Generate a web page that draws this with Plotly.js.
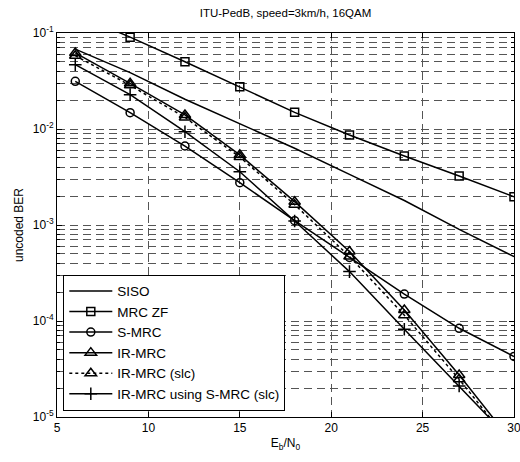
<!DOCTYPE html>
<html><head><meta charset="utf-8">
<script src="https://cdn.plot.ly/plotly-3.0.1.min.js"></script>
<style>html,body{margin:0;padding:0;background:#fff}#chart{width:520px;height:462px}</style>
</head><body><div id="chart"></div>
<script>
var ebn0 = [6, 9, 12, 15, 18, 21, 24, 27, 30];
var siso = [0.068, 0.0387, 0.0204, 0.0113, 0.0063, 0.00337, 0.0018, 0.0009, 0.000468];
var mrcZF = [0.158, 0.0905, 0.0502, 0.0276, 0.0149, 0.00866, 0.00524, 0.00324, 0.00197];
var sMRC = [0.0314, 0.0148, 0.00665, 0.00276, 0.00111, 0.00046, 0.000191, 0.000084, 0.0000427];
var irMRC = [0.062, 0.0299, 0.0140, 0.00538, 0.00175, 0.00053, 0.00013, 0.0000274, 0.0000052];
var irMRCslc = [0.058, 0.0285, 0.0132, 0.0051, 0.00163, 0.00047, 0.000115, 0.0000247, 0.0000048];
var irMRCsMRCslc = [0.0468, 0.0228, 0.00937, 0.00359, 0.0011, 0.000327, 0.000082, 0.000021, 0.0000053];
var xTicks = [5, 10, 15, 20, 25, 30];
var yMajor = [1e-5, 1e-4, 1e-3, 1e-2, 1e-1];
var yMajorText = ['10<sup>-5</sup>', '10<sup>-4</sup>', '10<sup>-3</sup>', '10<sup>-2</sup>', '10<sup>-1</sup>'];
var names = ['SISO', 'MRC ZF', 'S-MRC', 'IR-MRC', 'IR-MRC (slc)', 'IR-MRC using S-MRC (slc)'];

var yMinor = [];
for (var k = 0; k < yMajor.length - 1; k++) {
  for (var d = 2; d <= 9; d++) yMinor.push(yMajor[k] * d);
}

function tr(y, name, symbol, dash, size) {
  var t = {x: ebn0, y: y, name: name, type: 'scatter', cliponaxis: true,
    line: {color: '#000', width: 1.5, dash: dash},
    mode: symbol ? 'lines+markers' : 'lines'};
  if (symbol) t.marker = {symbol: symbol, size: size, color: '#000', line: {color: '#000', width: 1.5}};
  return t;
}
var data = [
  tr(siso, names[0], null, 'solid'),
  tr(mrcZF, names[1], 'square-open', 'solid', 8),
  tr(sMRC, names[2], 'circle-open', 'solid', 8),
  tr(irMRC, names[3], 'triangle-up-open', 'solid', 10),
  tr(irMRCslc, names[4], 'triangle-up-open', 'dot', 10),
  tr(irMRCsMRCslc, names[5], 'cross-thin-open', 'solid', 9)
];
var ff = 'Liberation Sans, Arial, sans-serif';
var font = {family: ff, size: 12, color: '#000'};
var gridStyle = {showgrid: true, gridcolor: '#555', griddash: '8px,5px', gridwidth: 1};
var layout = {
  width: 520, height: 462,
  margin: {l: 57, r: 6, t: 33, b: 45},
  paper_bgcolor: '#fff', plot_bgcolor: '#fff',
  font: font,
  showlegend: true,
  title: {text: 'ITU-PedB, speed=3km/h, 16QAM', font: {family: ff, size: 11.5, color: '#000'}, x: 0.5, xref: 'paper', y: 0.972, yanchor: 'middle'},
  xaxis: Object.assign({range: [5, 30], tickmode: 'array', tickvals: xTicks, ticktext: xTicks.map(String),
    ticks: 'inside', ticklen: 5, tickcolor: '#000', showline: true, mirror: 'ticks', linecolor: '#000', linewidth: 1,
    zeroline: false, ticklabeloverflow: 'allow',
    tickfont: {family: ff, size: 12, color: '#000'},
    title: {text: 'E<sub>b</sub>/N<sub>0</sub>', font: {family: ff, size: 12, color: '#000'}, standoff: 4}}, gridStyle),
  yaxis: Object.assign({type: 'log', range: [-5, -1], tickmode: 'array', tickvals: yMajor, ticktext: yMajorText,
    ticks: 'inside', ticklen: 5, tickcolor: '#000', showline: true, mirror: 'ticks', linecolor: '#000', linewidth: 1,
    zeroline: false, ticklabeloverflow: 'allow',
    tickfont: {family: ff, size: 12, color: '#000'},
    minor: {tickmode: 'array', tickvals: yMinor, ticks: 'inside', ticklen: 3, tickcolor: '#000',
      showgrid: true, gridcolor: '#555', griddash: '8px,5px', gridwidth: 1},
    title: {text: 'uncoded BER', font: {family: ff, size: 12, color: '#000'}, standoff: 6}}, gridStyle),
  legend: {x: 0.0138, y: 0.0164, xanchor: 'left', yanchor: 'bottom', bgcolor: '#fff',
    bordercolor: '#000', borderwidth: 1, font: {family: ff, size: 13.5, color: '#000'},
    tracegroupgap: 0, itemwidth: 43}
};
Plotly.newPlot('chart', data, layout, {displayModeBar: false, staticPlot: true});
</script></body></html>
